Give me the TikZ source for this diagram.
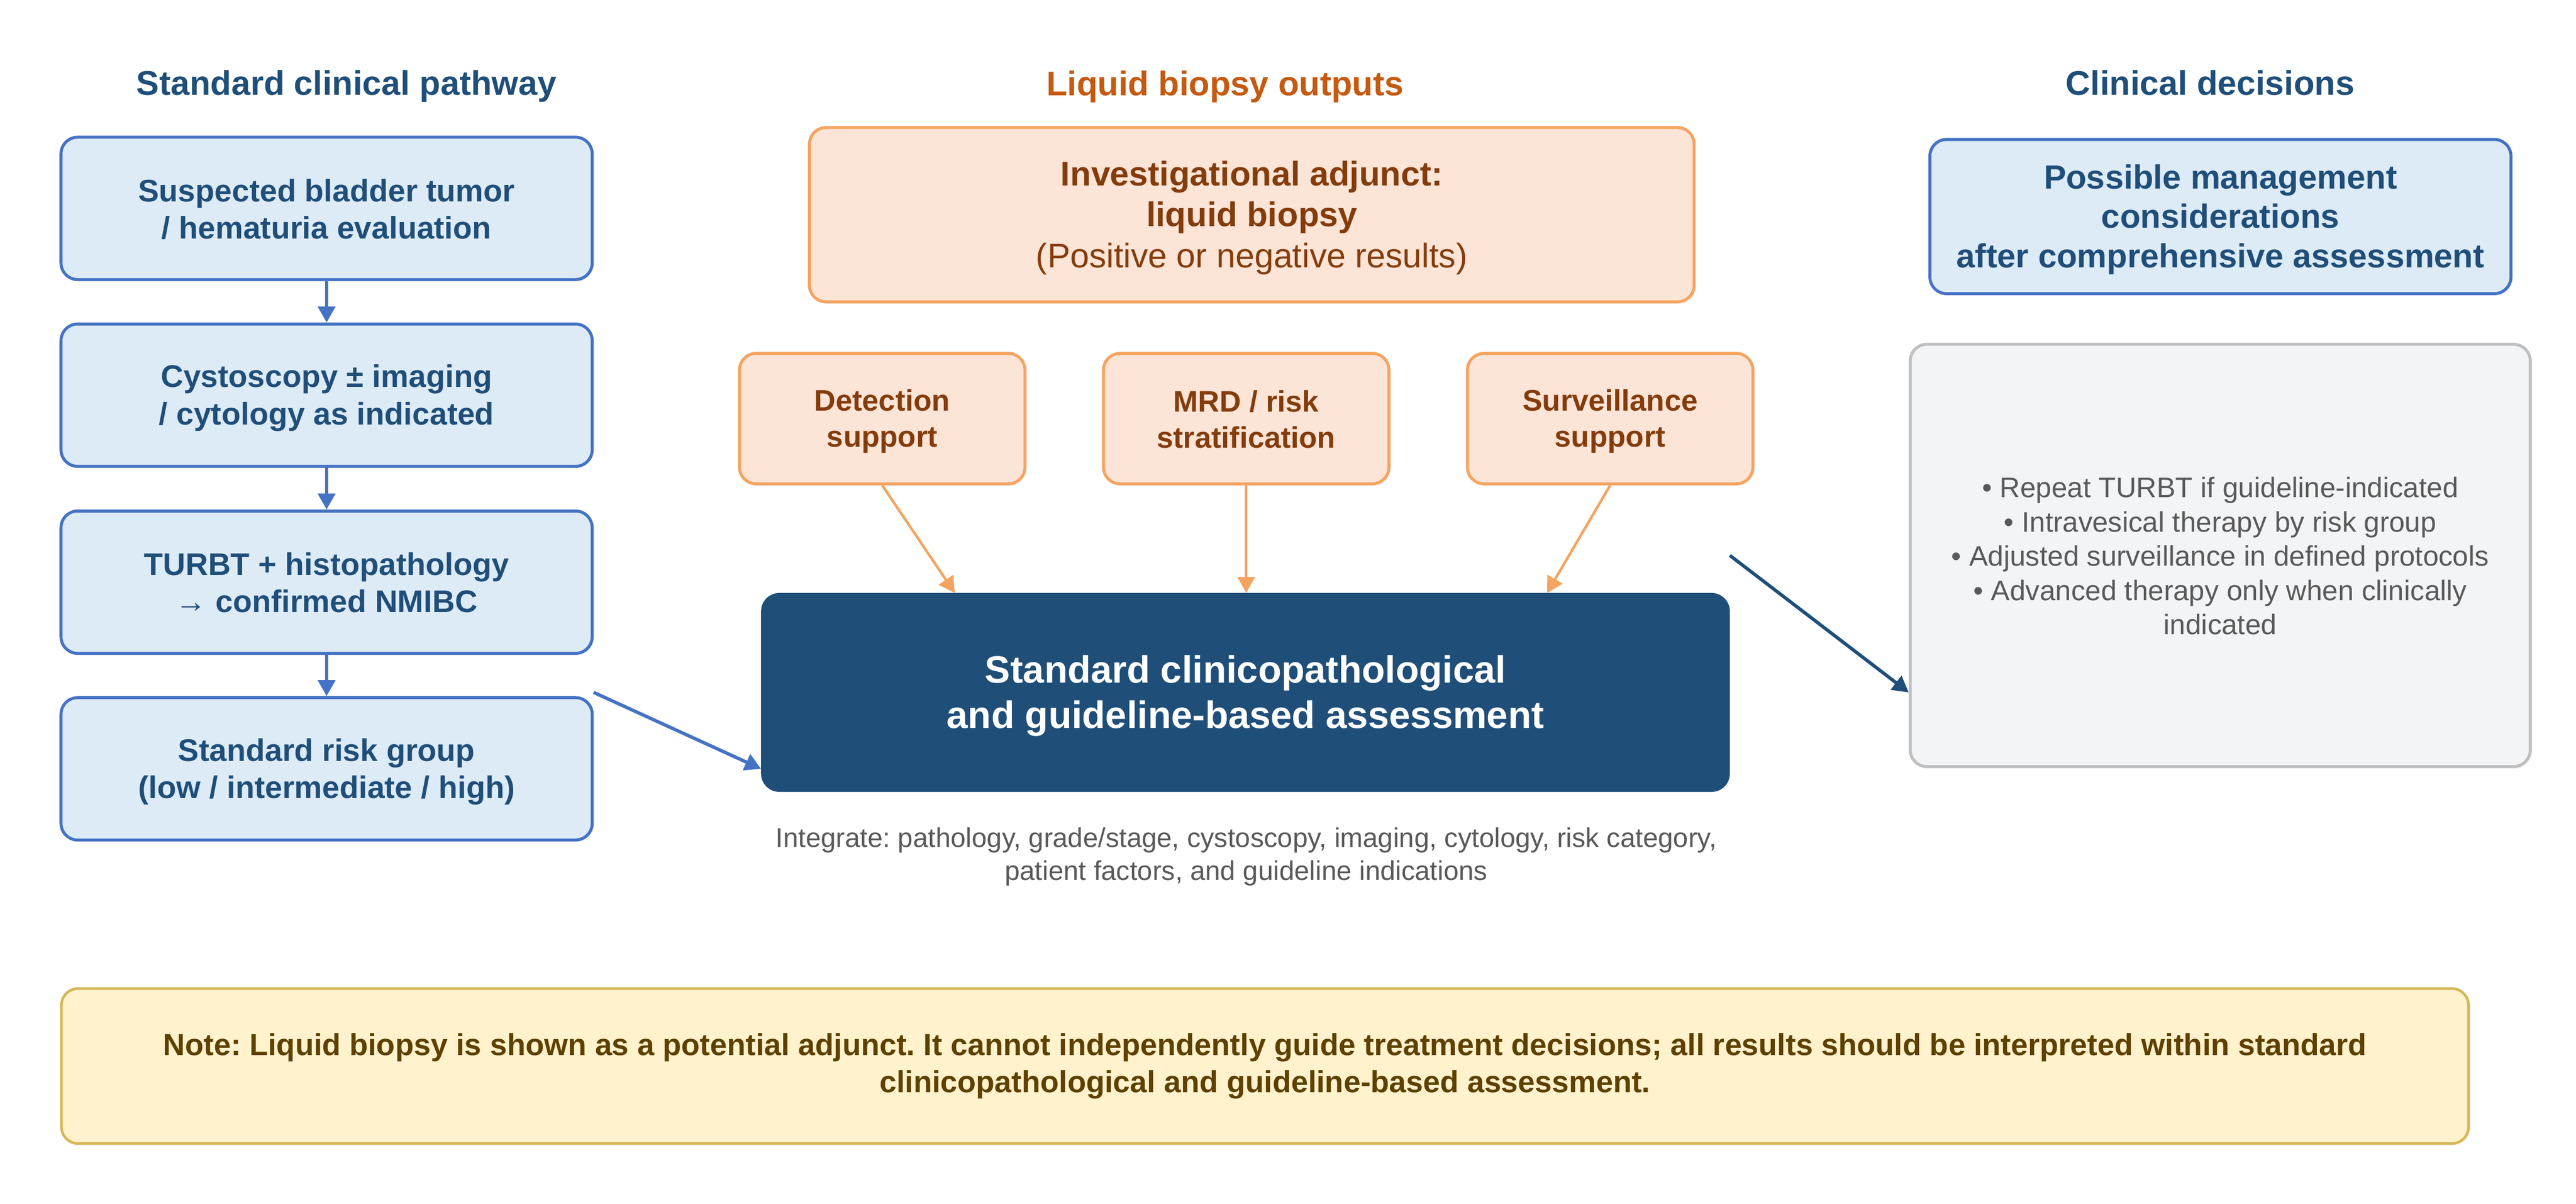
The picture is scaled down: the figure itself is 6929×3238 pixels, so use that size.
\documentclass[tikz,border=0pt]{standalone}
\usepackage{fontspec}
\setmainfont{Liberation Sans}
\usetikzlibrary{arrows.meta,calc,shadows}
\definecolor{bluefill}{HTML}{DDEBF7}
\definecolor{blueline}{HTML}{4472C4}
\definecolor{bluetext}{HTML}{1F4E79}
\definecolor{orfill}{HTML}{FCE4D6}
\definecolor{orline}{HTML}{F4A460}
\definecolor{ortext}{HTML}{843C0C}
\definecolor{ortitle}{HTML}{C55A11}
\definecolor{darkbox}{HTML}{1F4E79}
\definecolor{greyfill}{HTML}{F3F4F6}
\definecolor{greyline}{HTML}{BFBFBF}
\definecolor{greytext}{HTML}{595959}
\definecolor{notefill}{HTML}{FFF2CC}
\definecolor{noteline}{HTML}{D6B656}
\definecolor{notetext}{HTML}{5E4000}
\newcommand\lstr{\rule[-0.15em]{0pt}{1.05em}}
\frenchspacing
\begin{document}
\begin{tikzpicture}[x=0.1pt,y=-0.1pt,
  box/.style={rectangle,rounded corners=4.5pt,align=center,inner sep=0pt,line width=0.8pt,
    drop shadow={shadow xshift=0.5pt,shadow yshift=-0.6pt,opacity=0.08}},
  bluebox/.style={box,fill=bluefill,draw=blueline,text=bluetext,
    font=\fontsize{8.4}{10}\selectfont\bfseries,minimum width=142.9pt,minimum height=38.3pt},
  orbox/.style={box,fill=orfill,draw=orline,text=ortext},
  smallbox/.style={orbox,font=\fontsize{8.0}{9.7}\selectfont\bfseries,minimum width=76.8pt,minimum height=35.1pt},
  sectitle/.style={anchor=base,font=\fontsize{9.2}{11}\selectfont\bfseries},
  tipstyle/.style={-{Triangle[length=4.3pt,width=4.6pt]}},
  blarrow/.style={draw=blueline,line width=0.9pt,tipstyle},
  orarrow/.style={draw=orline,line width=0.7pt,tipstyle},
  darrow/.style={draw=darkbox,line width=0.9pt,tipstyle}
]
\fill[white] (0,0) rectangle (6929,3238);
\useasboundingbox (0,0) rectangle (6929,3238);

% section titles
\node[sectitle,text=bluetext] (t1) at (932,255) {Standard clinical pathway};
\node[sectitle,text=ortitle] (t2) at (3295,257) {Liquid biopsy outputs};
\node[sectitle,text=bluetext] (t3) at (5945,256) {Clinical decisions};

% left column
\node[bluebox] (b1) at (878.5,560.5) {\lstr Suspected bladder tumor\\\lstr / hematuria evaluation};
\node[bluebox] (b2) at (878.5,1063) {\lstr Cystoscopy ± imaging\\\lstr / cytology as indicated};
\node[bluebox] (b3) at (878.5,1566) {\lstr TURBT + histopathology\\\lstr → confirmed NMIBC};
\node[bluebox] (b4) at (878.5,2068) {\lstr Standard risk group\\\lstr (low / intermediate / high)};

% middle column
\node[orbox,font=\fontsize{9.2}{11}\selectfont,minimum width=238pt,minimum height=46.9pt] (inv) at (3367,577.5)
  {\lstr\bfseries Investigational adjunct:\\\bfseries liquid biopsy\\\lstr (Positive or negative results)};
\node[smallbox] (det) at (2373,1126) {\lstr Detection\\\lstr support};
\node[smallbox] (mrd) at (3352,1126) {\lstr MRD / risk\\\lstr stratification};
\node[smallbox] (sur) at (4331,1126) {\lstr Surveillance\\\lstr support};
\node[box,fill=darkbox,draw=darkbox,text=white,font=\fontsize{10.25}{12.2}\selectfont\bfseries,
  minimum width=259.8pt,minimum height=52.7pt] (dark) at (3350,1862.5)
  {\lstr Standard clinicopathological\\\lstr and guideline-based assessment};
\node[align=center,text=greytext,font=\fontsize{7.3}{8.8}\selectfont,inner sep=0pt] (integ) at (3352,2298)
  {\lstr Integrate: pathology, grade/stage, cystoscopy, imaging, cytology, risk category,\\\lstr patient factors, and guideline indications};

% right column
\node[box,fill=bluefill,draw=blueline,text=bluetext,font=\fontsize{9.0}{10.6}\selectfont\bfseries,
  minimum width=156.3pt,minimum height=41.5pt] (mgmt) at (5972.5,582.5)
  {\lstr Possible management\\considerations\\\lstr after comprehensive assessment};
\node[box,fill=greyfill,draw=greyline,text=greytext,font=\fontsize{7.6}{9.2}\selectfont,
  minimum width=166.8pt,minimum height=113.6pt] (grey) at (5972,1494)
  {\lstr • Repeat TURBT if guideline-indicated\\• Intravesical therapy by risk group\\• Adjusted surveillance in defined protocols\\• Advanced therapy only when clinically\\\lstr indicated};

% note
\node[box,fill=notefill,draw=noteline,line width=0.7pt,text=notetext,font=\fontsize{8.2}{9.9}\selectfont\bfseries,
  minimum width=647.5pt,minimum height=41.7pt] (note) at (3402.5,2867.5)
  {Note: Liquid biopsy is shown as a potential adjunct. It cannot independently guide treatment decisions; all results should be interpreted within standard\\clinicopathological and guideline-based assessment.};

% connectors
\draw[blarrow] (b1) -- (b2);
\draw[blarrow] (b2) -- (b3);
\draw[blarrow] (b3) -- (b4);
\draw[blarrow] (b4.east |- dark.center) -- (dark.west |- b4.center);
\draw[orarrow] (det.south) -- ($(dark.north west)!0.2!(dark.north east)$);
\draw[orarrow] (mrd.south) -- (mrd.south |- dark.north);
\draw[orarrow] (sur.south) -- ($(dark.north west)+(2114,0)$);
\draw[darrow] (dark.east |- grey.center) -- (grey.west |- dark.center);
\end{tikzpicture}
\end{document}
